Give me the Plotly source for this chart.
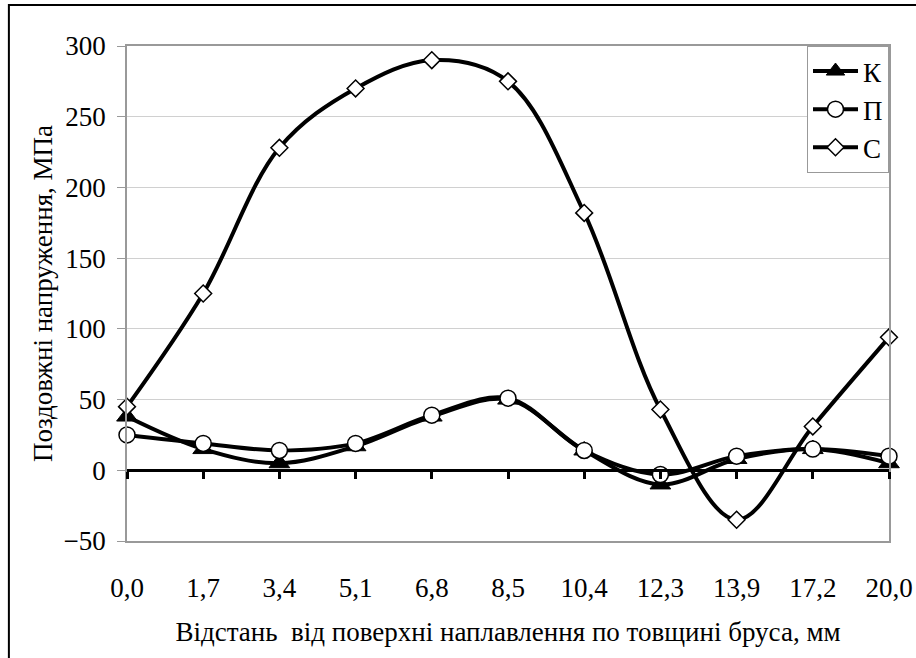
import plotly.graph_objects as go

categories = ["0,0", "1,7", "3,4", "5,1", "6,8", "8,5", "10,4", "12,3", "13,9", "17,2", "20,0"]
series_k = [38, 15, 5, 17, 38, 50, 14, -10, 8, 15, 5]
series_p = [25, 19, 14, 19, 39, 51, 14, -3, 10, 15, 10]
series_c = [45, 125, 228, 270, 290, 275, 182, 43, -35, 31, 94]
y_ticks = [-50, 0, 50, 100, 150, 200, 250, 300]

FONT = "Liberation Serif, Times New Roman, serif"
FS = 27

fig = go.Figure()

common_line = dict(color="black", width=4, shape="spline", smoothing=1.0)

fig.add_trace(go.Scatter(
    x=categories, y=series_k, name="К", mode="lines+markers",
    line=common_line,
    marker=dict(symbol="triangle-up", size=18, color="black",
                line=dict(color="black", width=1)),
    cliponaxis=False,
))
fig.add_trace(go.Scatter(
    x=categories, y=series_p, name="П", mode="lines+markers",
    line=common_line,
    marker=dict(symbol="circle", size=16, color="white",
                line=dict(color="black", width=1.5)),
    cliponaxis=False,
))
fig.add_trace(go.Scatter(
    x=categories, y=series_c, name="С", mode="lines+markers",
    line=common_line,
    marker=dict(symbol="diamond", size=13, color="white",
                line=dict(color="black", width=1.5)),
    cliponaxis=False,
))
# helper trace for the category axis drawn at y = 0
fig.add_trace(go.Scatter(
    x=categories, y=[None] * len(categories), xaxis="x2", yaxis="y",
    showlegend=False, hoverinfo="skip", mode="lines",
))

y_min, y_max = -50, 300
zero_pos = (0 - y_min) / (y_max - y_min)

fig.update_layout(
    width=916, height=658,
    margin=dict(l=127, r=27, t=46, b=117, autoexpand=False),
    paper_bgcolor="white", plot_bgcolor="white",
    font=dict(family=FONT, size=FS, color="black"),
    showlegend=True,
    legend=dict(
        x=1, xanchor="right", y=1, yanchor="top",
        bordercolor="#999999", borderwidth=1, bgcolor="white",
        font=dict(family=FONT, size=FS, color="black"),
        tracegroupgap=0, itemwidth=45,
    ),
    xaxis=dict(
        type="category", range=[0, len(categories) - 1], automargin=False,
        showgrid=False, zeroline=False,
        showline=True, linecolor="#999999", linewidth=1.5, mirror=True,
        ticks="", ticklabelstandoff=22,
        tickfont=dict(family=FONT, size=FS, color="black"),
        title=dict(text="Відстань  від поверхні наплавлення по товщині бруса, мм",
                   font=dict(family=FONT, size=FS, color="black"), standoff=20),
    ),
    xaxis2=dict(
        type="category", range=[0, len(categories) - 1], automargin=False,
        overlaying="x", anchor="free", position=zero_pos,
        showgrid=False, zeroline=False, showticklabels=False,
        showline=True, linecolor="black", linewidth=2.5,
        ticks="outside", ticklen=7, tickwidth=2.5, tickcolor="black",
        tickmode="array", tickvals=categories,
    ),
    yaxis=dict(
        range=[y_min, y_max], tickvals=y_ticks, automargin=False,
        showgrid=True, gridcolor="#d0d0d0", gridwidth=1,
        zeroline=False,
        showline=True, linecolor="#999999", linewidth=1.5, mirror=True,
        ticks="outside", ticklen=8, tickcolor="#999999", tickwidth=1,
        ticklabelstandoff=6,
        tickfont=dict(family=FONT, size=FS, color="black"),
        title=dict(text="Поздовжні напруження, МПа",
                   font=dict(family=FONT, size=FS, color="black"), standoff=3),
    ),
    shapes=[
        dict(type="rect", xref="paper", yref="paper",
             x0=-0.155, x1=1.2, y0=-0.4, y1=1.083,
             line=dict(color="black", width=2), fillcolor="rgba(0,0,0,0)",
             layer="below"),
    ],
)

fig.write_html("out.html")
